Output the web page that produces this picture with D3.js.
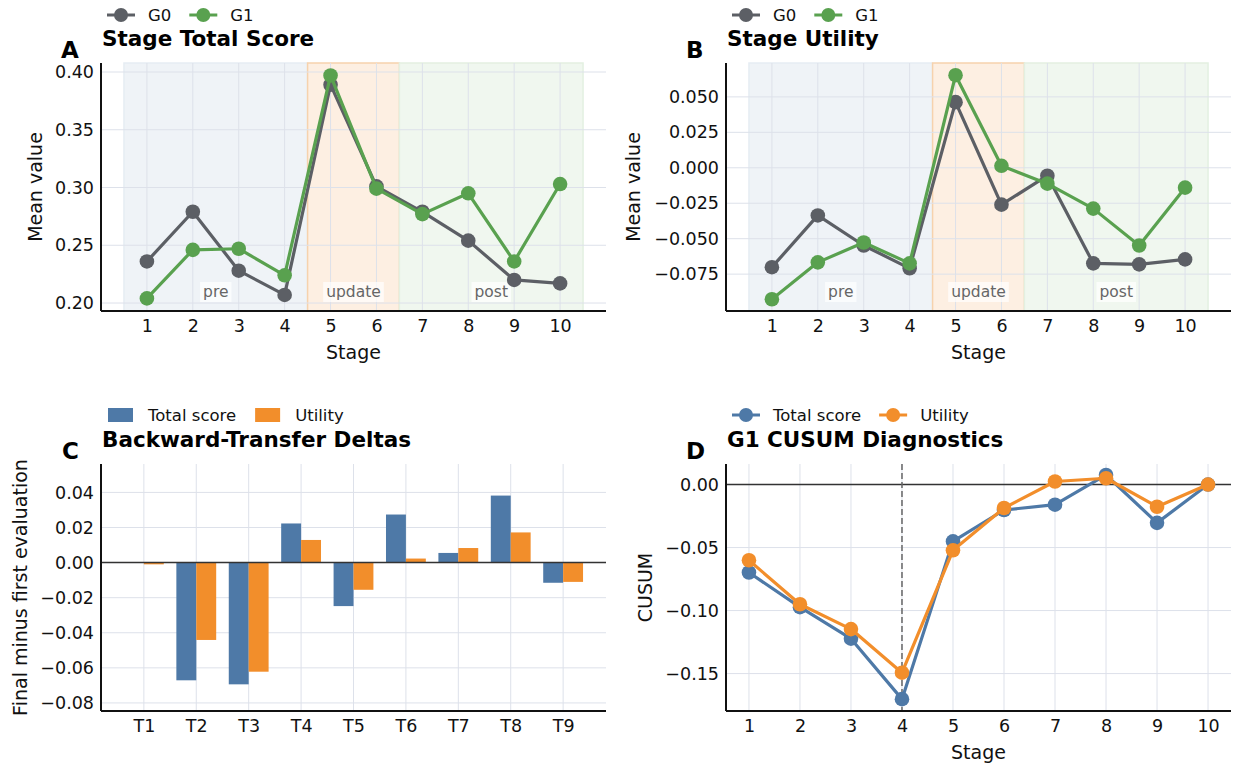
<!DOCTYPE html>
<html><head><meta charset="utf-8">
<script src="https://cdn.jsdelivr.net/npm/d3@7"></script>
<style>body{margin:0;background:#fff}svg{font-family:"DejaVu Sans",sans-serif}</style>
</head><body>
<svg id="c" width="1233" height="769"></svg>
<script>
const stages = [1,2,3,4,5,6,7,8,9,10];
const totalG0 = [0.236,0.279,0.228,0.207,0.389,0.301,0.279,0.254,0.220,0.217];
const totalG1 = [0.204,0.246,0.247,0.224,0.397,0.299,0.277,0.295,0.236,0.303];
const utilG0 = [-0.0701,-0.0336,-0.0548,-0.0709,0.0463,-0.0260,-0.0056,-0.0674,-0.0681,-0.0646];
const utilG1 = [-0.0927,-0.0667,-0.0527,-0.0674,0.0653,0.0014,-0.0112,-0.0288,-0.0548,-0.0140];
const tasks = ["T1","T2","T3","T4","T5","T6","T7","T8","T9"];
const btTotal = [0.0,-0.0671,-0.0694,0.0223,-0.0248,0.0274,0.0055,0.0382,-0.0115];
const btUtil = [-0.001,-0.0441,-0.0622,0.0129,-0.0155,0.0023,0.0083,0.0172,-0.0110];
const cusumTotal = [-0.0698,-0.0973,-0.1223,-0.1703,-0.0451,-0.0202,-0.0160,0.0076,-0.0304,0.0];
const cusumUtil = [-0.0601,-0.0950,-0.1147,-0.1493,-0.0522,-0.0186,0.0024,0.0050,-0.0176,0.0];
const ticksA = [0.20,0.25,0.30,0.35,0.40];
const ticksB = [-0.075,-0.050,-0.025,0.000,0.025,0.050];
const ticksC = [-0.08,-0.06,-0.04,-0.02,0.00,0.02,0.04];
const ticksD = [-0.15,-0.10,-0.05,0.00];
const phases = [{name:"pre",a:0.5,b:4.5},{name:"update",a:4.5,b:6.5},{name:"post",a:6.5,b:10.5}];

const C = {g0:"#5c5f65", g1:"#59a14f", blue:"#4e79a7", orange:"#f28e2b", grid:"#dde1ea"};
const phaseFill = {pre:"#eff3f7", update:"#fdefe2", post:"#f0f7ef"};
const phaseEdge = {pre:"#e6edf3", update:"#f6d2ad", post:"#e3f0e1"};
const svg = d3.select("#c");
const minus = s => s.replace("-", "\u2212");

function frame(x0,x1,y0,y1,xd,yd,yt,fmt){
  const x = d3.scaleLinear().domain(xd).range([x0,x1]);
  const y = d3.scaleLinear().domain(yd).range([y1,y0]);
  const g = svg.append("g");
  return {x,y,g,x0,x1,y0,y1,yt,fmt};
}
function grid(f, xt){
  const gg = f.g.append("g");
  gg.selectAll(".gx").data(xt).join("line").attr("x1",d=>f.x(d)).attr("x2",d=>f.x(d))
    .attr("y1",f.y0).attr("y2",f.y1).attr("stroke",C.grid).attr("stroke-width",1);
  gg.selectAll(".gy").data(f.yt).join("line").attr("y1",d=>f.y(d)).attr("y2",d=>f.y(d))
    .attr("x1",f.x0).attr("x2",f.x1).attr("stroke",C.grid).attr("stroke-width",1);
}
function axes(f, xt, xlab, ylab, xfmt){
  const ax = d3.axisBottom(f.x).tickValues(xt).tickSize(0).tickPadding(9).tickFormat(xfmt);
  const gx = f.g.append("g").attr("transform",`translate(0,${f.y1})`).call(ax);
  gx.select(".domain").remove();
  gx.selectAll("text").attr("font-size",17.5).attr("fill","#111").attr("font-family","DejaVu Sans");
  const ay = d3.axisLeft(f.y).tickValues(f.yt).tickSize(0).tickPadding(7).tickFormat(d=>minus(d3.format(f.fmt)(d)));
  const gy = f.g.append("g").attr("transform",`translate(${f.x0},0)`).call(ay);
  gy.select(".domain").remove();
  gy.selectAll("text").attr("font-size",17.5).attr("fill","#111").attr("font-family","DejaVu Sans");
  f.g.append("line").attr("x1",f.x0).attr("x2",f.x1).attr("y1",f.y1).attr("y2",f.y1).attr("stroke","#111").attr("stroke-width",2);
  f.g.append("line").attr("x1",f.x0).attr("x2",f.x0).attr("y1",f.y0).attr("y2",f.y1).attr("stroke","#111").attr("stroke-width",2);
  if(xlab) f.g.append("text").attr("x",(f.x0+f.x1)/2).attr("y",f.y1+48).attr("text-anchor","middle").attr("font-size",19).attr("fill","#111").text(xlab);
  if(ylab.t) f.g.append("text").attr("transform",`translate(${ylab.x},${(f.y0+f.y1)/2}) rotate(-90)`).attr("text-anchor","middle").attr("dominant-baseline","central").attr("font-size",19).attr("fill","#111").text(ylab.t);
}
function titleBlock(f, letter, lx, title, legend){
  f.g.append("text").attr("x",lx).attr("y",f.y0-5).attr("font-size",23).attr("font-weight","bold").attr("fill","#000").text(letter);
  f.g.append("text").attr("x",f.x0+1).attr("y",f.y0-17).attr("font-size",21.5).attr("font-weight","bold").attr("fill","#000").text(title);
  const ly = legend.y;
  let cx = f.x0+6;
  legend.items.forEach(it=>{
    if(it.type==="line"){
      f.g.append("line").attr("x1",cx).attr("x2",cx+28).attr("y1",ly).attr("y2",ly).attr("stroke",it.color).attr("stroke-width",3);
      f.g.append("circle").attr("cx",cx+14).attr("cy",ly).attr("r",7).attr("fill",it.color);
    } else {
      f.g.append("rect").attr("x",cx+1).attr("y",ly-7).attr("width",25).attr("height",14).attr("fill",it.color);
    }
    const t = f.g.append("text").attr("x",cx+41).attr("y",ly).attr("dominant-baseline","central").attr("font-size",16.5).attr("fill","#111").text(it.label);
    cx += 41 + t.node().getComputedTextLength() + 18;
  });
}
function series(f, xs, ys, color){
  const line = d3.line().x((d,i)=>f.x(xs[i])).y(d=>f.y(d));
  f.g.append("path").datum(ys).attr("d",line).attr("fill","none").attr("stroke",color).attr("stroke-width",3.2).attr("stroke-linejoin","round");
  f.g.append("g").selectAll("circle").data(ys).join("circle").attr("cx",(d,i)=>f.x(xs[i])).attr("cy",d=>f.y(d)).attr("r",7.3).attr("fill",color);
}
function phasePanel(f){
  phases.forEach(p=>{
    f.g.append("rect").attr("x",f.x(p.a)).attr("y",f.y0).attr("width",f.x(p.b)-f.x(p.a)).attr("height",f.y1-f.y0)
      .attr("fill",phaseFill[p.name]).attr("stroke",phaseEdge[p.name]).attr("stroke-width",1.5);
  });
}
function phaseLabels(f){
  phases.forEach(p=>{
    const cx = f.x((p.a+p.b)/2), cy = f.y1-19;
    const t = f.g.append("text").attr("x",cx).attr("y",cy).attr("text-anchor","middle").attr("dominant-baseline","central")
      .attr("font-size",15.5).attr("fill","#666").text(p.name);
    const w = t.node().getComputedTextLength();
    f.g.insert("rect", () => t.node()).attr("x",cx-w/2-3).attr("y",cy-10).attr("width",w+6).attr("height",20).attr("fill","#fff").attr("opacity",0.7);
  });
}

// Panel A
{
  const f = frame(101,606,63,311,[0,11],[0.1931,0.4078],ticksA,".2f");
  phasePanel(f); grid(f,stages); phaseLabels(f);
  axes(f,stages,"Stage",{t:"Mean value",x:35},d=>d);
  series(f,stages,totalG0,C.g0); series(f,stages,totalG1,C.g1);
  titleBlock(f,"A",61,"Stage Total Score",{y:15,items:[{type:"line",color:C.g0,label:"G0"},{type:"line",color:C.g1,label:"G1"}]});
}
// Panel B
{
  const f = frame(726,1231,63,311,[0,11],[-0.101,0.0739],ticksB,".3f");
  phasePanel(f); grid(f,stages); phaseLabels(f);
  axes(f,stages,"Stage",{t:"Mean value",x:633},d=>d);
  series(f,stages,utilG0,C.g0); series(f,stages,utilG1,C.g1);
  titleBlock(f,"B",686,"Stage Utility",{y:15,items:[{type:"line",color:C.g0,label:"G0"},{type:"line",color:C.g1,label:"G1"}]});
}
// Panel C
{
  const idx = tasks.map((d,i)=>i);
  const f = frame(101,606,464,711,[-0.818,8.818],[-0.0846,0.0562],ticksC,".2f");
  grid(f,idx);
  const w = 0.38;
  f.g.append("g").selectAll("rect").data(btTotal).join("rect")
    .attr("x",(d,i)=>f.x(i-w)).attr("width",f.x(w)-f.x(0))
    .attr("y",d=>f.y(Math.max(0,d))).attr("height",d=>Math.abs(f.y(d)-f.y(0))).attr("fill",C.blue);
  f.g.append("g").selectAll("rect").data(btUtil).join("rect")
    .attr("x",(d,i)=>f.x(i)).attr("width",f.x(w)-f.x(0))
    .attr("y",d=>f.y(Math.max(0,d))).attr("height",d=>Math.abs(f.y(d)-f.y(0))).attr("fill",C.orange);
  f.g.append("line").attr("x1",f.x0).attr("x2",f.x1).attr("y1",f.y(0)).attr("y2",f.y(0)).attr("stroke","#333").attr("stroke-width",1.5);
  axes(f,idx,null,{t:"Final minus first evaluation",x:20},i=>tasks[i]);
  titleBlock(f,"C",62,"Backward-Transfer Deltas",{y:415,items:[{type:"rect",color:C.blue,label:"Total score"},{type:"rect",color:C.orange,label:"Utility"}]});
}
// Panel D
{
  const f = frame(726,1231,464,711,[0.55,10.45],[-0.1797,0.0163],ticksD,".2f");
  grid(f,stages);
  f.g.append("line").attr("x1",f.x0).attr("x2",f.x1).attr("y1",f.y(0)).attr("y2",f.y(0)).attr("stroke","#333").attr("stroke-width",1.5);
  f.g.append("line").attr("x1",f.x(4)).attr("x2",f.x(4)).attr("y1",f.y0).attr("y2",f.y1).attr("stroke","#666").attr("stroke-width",1.5).attr("stroke-dasharray","6,3");
  axes(f,stages,"Stage",{t:"CUSUM",x:645},d=>d);
  series(f,stages,cusumTotal,C.blue); series(f,stages,cusumUtil,C.orange);
  titleBlock(f,"D",686,"G1 CUSUM Diagnostics",{y:415,items:[{type:"line",color:C.blue,label:"Total score"},{type:"line",color:C.orange,label:"Utility"}]});
}
</script>
</body></html>
